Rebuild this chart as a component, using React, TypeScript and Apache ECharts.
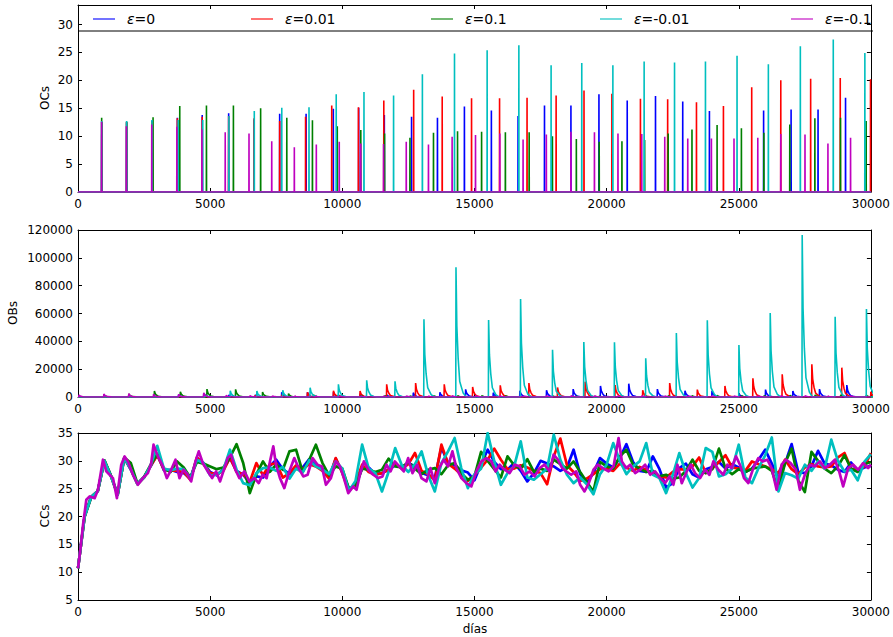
import React, { useEffect, useRef } from "react";
import * as echarts from "echarts";

const NAMES = ["ε=0", "ε=0.01", "ε=0.1", "ε=-0.01", "ε=-0.1"];
const COLORS = ["#0000ff", "#ff0000", "#008000", "#00bfbf", "#bf00bf"];

// ---- OCs: spikes [day, height]
const OC_BLUE = [[900,12.6],[1840,12.5],[2800,12.8],[3760,13.3],[4700,13.8],[5700,14.1],[6660,13.0],[7630,14.0],[8630,14.0],[9660,14.9],[10620,15.1],[11590,13.8],[12620,13.5],[13600,13.3],[14620,15.3],[15640,14.6],[16650,13.6],[17650,15.5],[18650,15.5],[19710,17.5],[20780,16.4],[21850,17.2],[22880,16.2],[23890,14.5],[25940,14.6],[26980,14.8],[28000,14.8],[29040,16.9]];
const OC_RED = [[900,12.5],[1840,12.5],[2800,12.6],[3760,13.2],[4700,13.5],[5700,13.6],[6660,13.2],[7630,12.7],[8610,13.5],[9600,15.5],[10610,15.2],[11570,16.4],[12700,18.3],[13780,17.1],[14890,16.8],[15950,16.8],[16990,16.9],[18090,17.3],[19145,18.2],[20200,17.6],[21280,16.7],[22310,16.6],[23400,16.1],[24420,15.4],[25490,18.75],[26590,20.0],[27720,20.3],[28840,20.4],[29985,20.2]];
const OC_GREEN = [[895,13.3],[1840,12.6],[2840,13.4],[3850,15.4],[4860,15.5],[5880,15.5],[6910,15.0],[7900,13.3],[8870,12.85],[9810,11.8],[10700,11.1],[11600,10.5],[12560,9.7],[13450,10.6],[14360,10.9],[15270,10.8],[16170,10.7],[17070,10.7],[17950,10.0],[18855,9.5],[19720,9.0],[20580,9.1],[21440,9.3],[22330,10.5],[23230,11.2],[24180,12.0],[25100,11.4],[25950,10.6],[26930,12.1],[27880,13.2],[28850,13.3],[29820,12.7]];
const OC_CYAN = [[895,12.7],[1840,12.7],[2800,12.9],[3790,12.9],[4720,12.9],[5710,13.6],[6670,14.5],[7710,15.1],[8740,15.2],[9770,17.5],[10820,17.9],[11940,17.3],[13030,21.1],[14245,24.8],[15480,25.4],[16680,26.3],[17900,22.7],[19060,23.1],[20237,22.7],[21420,23.4],[22570,23.2],[23740,23.4],[24935,24.4],[26120,22.9],[27330,26.1],[28576,27.3],[29771,24.9]];
const OC_MAGENTA = [[890,12.6],[1830,11.8],[2790,12.1],[3740,11.7],[4690,11.2],[5570,10.7],[6470,10.5],[7330,9.1],[8185,8.0],[9017,8.5],[9885,9.0],[10700,8.7],[11560,8.6],[12420,9.0],[13260,8.5],[14155,9.9],[15040,10.2],[15960,10.5],[16840,9.4],[17720,10.3],[18650,10.8],[19540,10.7],[20430,10.5],[21330,10.4],[22200,9.9],[23070,9.6],[23965,9.6],[24820,9.6],[25720,9.7],[26590,10.4],[27506,10.3],[28374,8.7],[29230,9.7]];

// ---- OBs: peaks [day, height]
const OB_BLUE = [[3800,1500],[4750,2500],[5700,1500],[6700,1500],[7700,3350],[8674,3300],[9660,3600],[10670,2500],[11680,1500],[12678,3100],[13685,3350],[14658,5500],[15704,3100],[16711,4500],[17719,4800],[18727,5700],[19760,7900],[20830,9600],[21913,5700],[22958,4500],[23978,4500],[25000,2500],[26005,5300],[27039,4300],[28047,5700],[29080,8600]];
const OB_RED = [[6700,1200],[7700,1500],[8674,3350],[9657,4500],[10664,4300],[11671,9100],[12766,10000],[13849,9100],[14923,7200],[15968,8400],[17052,10000],[18135,6900],[19180,11000],[20314,8600],[21358,4800],[22379,10000],[23424,5300],[24469,7900],[25527,13400],[26636,16300],[27757,23500],[28891,21100],[29990,3800]];
const OB_GREEN = [[970,1500],[1914,2200],[2883,4300],[3865,3800],[4872,5700],[5955,5500],[6975,3600],[7957,2400],[8900,1600],[9850,1500],[10700,1200],[11600,1000],[12560,800],[13450,900],[14360,1000],[15270,900],[16170,900],[17070,1000],[17950,800],[18855,700],[19720,700],[20580,700],[21440,800],[22330,900],[23230,1000],[24180,1100],[25100,1000],[25950,900],[26930,1200],[27880,1500],[28850,1500],[29820,1300]];
const OB_CYAN = [[3800,1500],[4800,2000],[5753,4500],[6760,4300],[7740,4800],[8775,6700],[9845,9100],[10915,12000],[11986,11260],[13081,55800],[14293,93200],[15527,55300],[16737,70400],[17946,34000],[19130,39500],[20289,39300],[21472,27800],[22631,46000],[23802,55100],[24998,37400],[26182,60400],[27392,116400],[28639,57700],[29823,63200]];
const OB_MAGENTA = [[30,1500],[970,2200],[1914,2400],[2850,2000],[3800,2000],[4750,3000],[5600,1200],[6500,1000],[7350,800],[8200,700],[9000,700],[9885,800],[10700,700],[11560,700],[12420,800],[13260,700],[14155,900],[15040,900],[15960,1000],[16840,800],[17720,900],[18650,1000],[19540,1000],[20430,1000],[21330,900],[22200,800],[23070,800],[23965,800],[24820,800],[25720,800],[26590,900],[27506,900],[28374,700],[29230,800]];
// stroke template of one peak: [day offset, share of the peak]
const PEAK_SHAPE = [[0,0],[8,1],[40,0.55],[90,0.3],[150,0.12],[280,0.03],[400,0]];

// ---- CCs
const CC_DAYS = Array.from({ length: 121 }, (_, i) => i * 250);
const CC_BLUE = [10.7,20.0,23.5,24.6,30.0,27.3,23.9,30.5,28.4,25.9,27.1,29.0,31.2,28.3,28.4,28.0,27.8,26.8,30.5,29.6,28.0,27.4,28.5,30.5,28.2,27.5,26.0,27.2,27.0,29.0,30.2,28.5,27.6,29.0,28.8,30.3,29.2,28.6,27.0,30.4,28.0,25.0,25.6,28.6,28.8,27.6,27.8,28.4,29.2,28.9,29.6,29.0,27.8,27.4,27.0,32.4,29.6,29.2,28.3,27.9,26.5,29.4,32.0,29.8,28.5,28.4,29.6,28.2,26.3,27.8,30.0,29.5,29.0,28.2,28.8,32.0,27.6,26.0,27.8,30.5,29.5,28.8,30.5,33.0,29.8,28.2,28.0,30.8,28.5,25.2,26.0,28.7,29.5,27.6,27.0,28.5,28.9,29.8,28.6,29.4,28.8,28.0,28.6,30.2,32.0,29.5,26.8,29.5,33.0,28.0,27.8,29.0,31.8,29.5,29.2,28.4,28.0,29.7,28.2,28.8,29.1];
const CC_RED = [10.7,20.0,23.5,24.6,30.0,27.2,23.9,30.5,28.5,25.8,27.0,29.1,31.0,28.4,28.3,28.2,28.0,26.6,30.6,29.4,27.8,27.6,28.2,30.6,28.0,27.6,26.2,29.6,27.4,29.3,29.6,27.0,27.8,29.2,28.5,29.4,29.0,28.2,26.8,30.5,27.8,24.5,26.0,29.3,28.0,27.5,27.8,28.4,29.6,28.6,29.4,31.4,28.2,27.6,26.5,32.9,29.5,28.6,27.5,26.4,27.4,28.8,30.2,32.2,30.2,28.5,28.6,29.2,28.8,28.2,27.8,25.8,30.8,34.0,29.2,28.0,26.4,26.8,27.6,28.5,28.6,28.2,29.5,28.8,28.2,28.9,28.4,27.6,27.2,27.0,28.0,28.5,28.4,29.0,30.6,27.8,28.6,29.8,31.0,28.8,28.6,28.2,29.9,29.4,29.0,28.5,27.8,30.2,28.5,27.6,28.8,29.4,29.0,28.8,29.0,30.6,31.4,28.6,28.2,29.0,31.4];
const CC_GREEN = [10.7,20.0,23.5,24.6,30.1,27.3,23.9,30.6,29.6,25.9,27.1,29.3,31.2,28.6,28.0,29.9,28.8,27.0,29.8,29.5,29.0,28.5,28.8,30.6,33.0,29.6,24.2,27.6,29.9,28.0,29.3,28.4,31.7,32.0,28.0,30.2,32.9,29.6,27.4,29.0,28.6,25.0,25.4,28.6,28.4,28.0,28.4,30.4,29.0,28.8,29.8,28.6,27.6,28.4,28.7,27.6,29.2,29.6,27.8,26.6,27.2,31.6,30.0,28.5,27.0,30.8,29.2,28.6,30.3,28.0,28.6,28.2,30.2,29.4,28.6,29.9,28.0,26.2,24.5,29.8,29.0,28.6,30.8,32.0,29.3,28.6,28.0,28.2,27.2,27.5,26.8,27.0,28.2,30.2,28.2,27.8,28.5,32.2,28.6,27.6,28.5,28.0,28.6,28.8,29.0,28.2,24.8,29.6,32.2,26.5,24.4,31.6,30.0,28.6,27.8,29.0,31.0,28.6,28.0,29.4,29.8];
const CC_CYAN = [10.7,20.0,23.5,24.6,30.0,27.2,23.9,30.5,28.5,25.8,27.0,29.2,32.7,28.6,28.3,28.6,28.5,26.8,30.2,29.6,27.4,27.5,28.4,32.0,28.4,26.0,25.6,27.8,28.7,28.8,28.2,28.9,26.8,28.6,27.9,30.1,29.0,28.4,27.6,29.9,28.6,24.6,26.4,32.9,28.6,27.8,24.5,28.0,32.3,29.2,28.0,29.4,31.7,27.4,24.5,29.6,31.7,34.1,28.7,25.1,27.6,28.6,35.0,29.9,25.7,27.8,29.0,33.5,27.0,26.6,27.6,28.6,34.7,30.2,27.5,26.0,27.0,25.8,24.0,27.6,29.3,33.2,30.0,27.6,29.0,29.9,33.2,27.5,26.9,24.2,27.4,31.4,27.8,25.2,26.9,32.3,31.6,27.2,27.6,28.6,32.9,27.0,26.0,28.7,31.0,34.2,24.5,27.8,27.4,26.8,29.3,28.2,29.9,28.6,33.8,30.0,28.1,28.4,26.5,29.8,31.2];
const CC_MAGENTA = [[0,10.7],[100,14.5],[190,18.5],[315,23.0],[440,23.6],[630,23.3],[755,24.8],[945,30.2],[1070,28.1],[1196,27.5],[1322,26.9],[1473,23.3],[1637,29.3],[1763,30.8],[1889,29.9],[2077,27.5],[2266,25.7],[2455,26.9],[2644,27.8],[2770,29.6],[2858,32.9],[3022,30.8],[3210,29.0],[3361,26.9],[3525,28.4],[3689,30.2],[3840,26.9],[3991,28.4],[4155,27.5],[4281,26.3],[4444,29.9],[4570,31.7],[4721,29.6],[4910,28.1],[5074,26.9],[5225,28.1],[5376,26.3],[5540,28.7],[5666,30.5],[5792,31.1],[5955,28.4],[6106,26.9],[6295,28.1],[6484,26.3],[6673,26.9],[6837,26.0],[6987,27.5],[7139,26.9],[7264,29.9],[7390,32.6],[7491,29.3],[7642,26.9],[7806,25.1],[7995,28.1],[8184,30.5],[8347,28.7],[8523,27.2],[8687,27.5],[8876,30.5],[9065,29.3],[9228,29.0],[9380,25.7],[9568,26.9],[9757,29.9],[9910,29.0],[10061,26.9],[10225,24.2],[10414,25.4],[10540,24.8],[10665,27.5],[10816,29.9],[10980,28.4],[11169,27.5],[11358,26.9],[11522,27.2],[11673,29.3],[11824,28.1],[11987,29.9],[12151,29.0],[12327,28.1],[12491,30.5],[12655,27.8],[12831,29.3],[12995,26.9],[13183,26.3],[13334,28.7],[13498,26.0],[13662,28.7],[13838,30.2],[14002,29.0],[14166,31.7],[14317,28.7],[14505,26.9],[14694,26.0],[14883,25.4],[15072,28.1],[15261,29.9],[15450,30.5],[15639,29.9],[15802,28.1],[15953,29.3],[16142,28.4],[16331,27.8],[16520,29.3],[16709,29.0],[16898,27.5],[17086,28.1],[17275,27.2],[17464,28.7],[17653,29.3],[17842,28.1],[17993,31.1],[18157,30.2],[18320,28.7],[18471,28.1],[18660,27.5],[18849,28.1],[19000,25.7],[19164,24.5],[19327,26.0],[19504,28.4],[19667,29.3],[19856,28.7],[20074,28.1],[20263,29.0],[20452,34.1],[20577,29.9],[20741,28.7],[20892,29.3],[21081,27.8],[21270,28.4],[21459,29.3],[21648,27.5],[21836,28.1],[22025,26.9],[22214,26.0],[22378,27.2],[22528,25.7],[22680,29.3],[22844,26.0],[23032,28.1],[23184,29.3],[23347,27.8],[23536,26.9],[23725,28.4],[23889,27.5],[24040,29.9],[24229,28.4],[24417,27.5],[24568,29.3],[24732,28.7],[24896,30.8],[25046,29.3],[25198,26.9],[25362,26.0],[25550,28.7],[25739,30.5],[25903,29.9],[26079,30.2],[26243,28.7],[26432,24.8],[26620,29.3],[26784,30.2],[26961,29.6],[27162,28.4],[27313,24.8],[27502,27.5],[27691,29.3],[27880,29.0],[28069,29.9],[28258,28.7],[28447,29.3],[28636,30.2],[28799,28.1],[28950,25.4],[29139,28.7],[29328,29.3],[29516,28.4],[29705,29.6],[29894,28.7],[30000,29.3]];

const OC_ALL = [OC_BLUE, OC_RED, OC_GREEN, OC_CYAN, OC_MAGENTA];
const OB_ALL = [OB_BLUE, OB_RED, OB_GREEN, OB_CYAN, OB_MAGENTA];
const CC_GRID = [CC_BLUE, CC_RED, CC_GREEN, CC_CYAN];

function spikeLine(list: number[][]) {
  const out: number[][] = [[0, 0]];
  for (const [d, h] of list) out.push([d - 4, 0], [d, h], [d + 4, 0]);
  out.push([30000, 0]);
  return out;
}
function peakLine(list: number[][]) {
  const out: number[][] = [[0, 0]];
  for (const [d, h] of list) for (const [o, f] of PEAK_SHAPE) out.push([d + o, h * f]);
  out.push([30000, 0]);
  return out;
}

const FONT = "DejaVu Sans";
const LEFT = 78, RIGHT = 20;
const GRIDS = [
  { top: 5, height: 187 },
  { top: 230, height: 167 },
  { top: 433, height: 167 },
];
const Y_CFG = [
  { min: 0, max: 33.5, interval: 5 },
  { min: 0, max: 120000, interval: 20000 },
  { min: 5, max: 35, interval: 5 },
];
const LEG_X = [88, 246, 426, 595, 786];

export default function App() {
  const ref = useRef<HTMLDivElement>(null);
  useEffect(() => {
    if (!ref.current) return;
    const chart = echarts.init(ref.current, null, { renderer: "svg" });
    const tickStyle = { inside: true, length: 4, lineStyle: { color: "#000", width: 1 } };
    const axisLine = { show: true, onZero: false, lineStyle: { color: "#000", width: 1 } };
    const lbl = { color: "#000", fontSize: 12, fontFamily: FONT };
    const xAxes: any[] = [];
    const yAxes: any[] = [];
    for (let g = 0; g < 3; g++) {
      xAxes.push({
        type: "value", gridIndex: g, min: 0, max: 30000, interval: 5000, position: "bottom",
        axisLine, axisTick: tickStyle, splitLine: { show: false },
        axisLabel: { ...lbl, margin: 6, formatter: (v: number) => String(v) },
      });
    }
    for (let g = 0; g < 3; g++) {
      xAxes.push({
        type: "value", gridIndex: g, min: 0, max: 30000, interval: 5000, position: "top",
        axisLine, axisTick: tickStyle, splitLine: { show: false }, axisLabel: { show: false },
      });
    }
    for (let g = 0; g < 3; g++) {
      yAxes.push({
        type: "value", gridIndex: g, ...Y_CFG[g], position: "left",
        axisLine, axisTick: tickStyle, splitLine: { show: false },
        axisLabel: {
          ...lbl, margin: 5,
          formatter: (v: number) => (Math.abs(v / Y_CFG[g].interval - Math.round(v / Y_CFG[g].interval)) < 1e-6 ? String(v) : ""),
        },
      });
    }
    for (let g = 0; g < 3; g++) {
      yAxes.push({
        type: "value", gridIndex: g, ...Y_CFG[g], position: "right",
        axisLine, axisTick: tickStyle, splitLine: { show: false }, axisLabel: { show: false },
      });
    }
    const series: any[] = [];
    const base = { type: "line", showSymbol: false, symbol: "none", silent: true, animation: false };
    for (let i = 0; i < 5; i++) {
      series.push({ ...base, name: NAMES[i], xAxisIndex: 0, yAxisIndex: 0, data: spikeLine(OC_ALL[i]),
        lineStyle: { color: COLORS[i], width: 1.6 }, itemStyle: { color: COLORS[i] } });
    }
    for (let i = 0; i < 5; i++) {
      series.push({ ...base, name: NAMES[i], xAxisIndex: 1, yAxisIndex: 1, data: peakLine(OB_ALL[i]),
        lineStyle: { color: COLORS[i], width: 1.6 }, itemStyle: { color: COLORS[i] } });
    }
    for (let i = 0; i < 5; i++) {
      const data = i < 4 ? CC_DAYS.map((d, k) => [d, CC_GRID[i][k]]) : CC_MAGENTA;
      series.push({ ...base, name: NAMES[i], xAxisIndex: 2, yAxisIndex: 2, data,
        lineStyle: { color: COLORS[i], width: 2.7, join: "round" }, itemStyle: { color: COLORS[i] } });
    }
    const legends = NAMES.map((n, i) => ({
      data: [n], left: LEG_X[i], top: 7, icon: "rect", itemWidth: 22, itemHeight: 2,
      selectedMode: false, itemStyle: { opacity: 0.55 },
      formatter: (name: string) => "{i|ε}" + name.slice(1),
      textStyle: {
        color: "#000", fontSize: 14, fontFamily: FONT, padding: [0, 0, 0, 7],
        rich: { i: { fontStyle: "italic", fontSize: 14, fontFamily: FONT, color: "#000" } },
      },
    }));
    const yTitle = (text: string, x: number, y: number) => ({
      type: "text", x, y, rotation: Math.PI / 2,
      style: { text, fill: "#000", font: `12px '${FONT}'`, textAlign: "center", textVerticalAlign: "middle" },
    });
    chart.setOption({
      animation: false,
      backgroundColor: "#fff",
      grid: GRIDS.map((g) => ({ left: LEFT, right: RIGHT, top: g.top, height: g.height })),
      xAxis: xAxes,
      yAxis: yAxes,
      legend: legends,
      series,
      graphic: [
        { type: "line", shape: { x1: LEFT, y1: 31, x2: 893 - RIGHT, y2: 31 }, style: { stroke: "#000", lineWidth: 1 }, z: 10 },
        yTitle("OCs", 45, 98),
        yTitle("OBs", 13, 313),
        yTitle("CCs", 45, 516),
        { type: "text", x: 475, y: 629, style: { text: "días", fill: "#000", font: `12px '${FONT}'`, textAlign: "center", textVerticalAlign: "middle" } },
      ],
    });
    return () => chart.dispose();
  }, []);
  return <div ref={ref} style={{ width: 893, height: 637, position: "absolute", left: 0, top: 0 }} />;
}
